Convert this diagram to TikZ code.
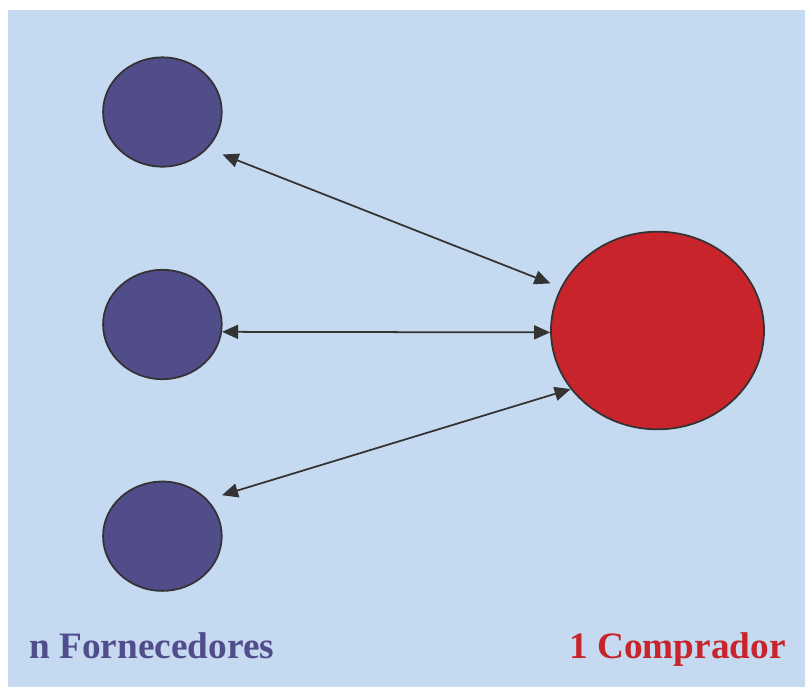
\documentclass[tikz,border=0pt]{standalone}
\usepackage{fontspec}
\setmainfont{Liberation Serif}
\usetikzlibrary{shapes.geometric,arrows.meta}
\definecolor{bgblue}{RGB}{197,218,241}
\definecolor{supplier}{RGB}{81,76,138}
\definecolor{buyer}{RGB}{200,36,43}
\definecolor{edgegray}{RGB}{51,51,51}

\begin{document}
\begin{tikzpicture}[x=0.03cm, y=-0.03cm,
        forn/.style={ellipse, draw=edgegray, line width=1.5pt, fill=supplier,
                minimum width=3.56cm, minimum height=3.28cm, inner sep=0pt},
        comp/.style={ellipse, draw=edgegray, line width=1.5pt, fill=buyer,
                minimum width=6.39cm, minimum height=5.93cm, inner sep=0pt},
        link/.style={draw=edgegray, line width=1.5pt,
                {Triangle[length=0.48cm,width=0.42cm]}-{Triangle[length=0.48cm,width=0.42cm]}},
        caption/.style={inner sep=0pt, font=\fontsize{31.8}{38}\selectfont\bfseries}]
        \useasboundingbox (0,0) rectangle (805,687);
        \fill[bgblue] (8,10) rectangle (805,687);
        \node (f1) [forn] at (162.4, 112.0) {};
        \node (f2) [forn] at (162.4, 324.5) {};
        \node (f3) [forn] at (162.4, 536.2) {};
        \node (c) [comp] at (657.5, 330.5) {};
        \node (lf) [caption, text=supplier, anchor=base west] at (29.3, 658.3) {n Fornecedores};
        \node (lc) [caption, text=buyer, anchor=base east] at (786.0, 658.3) {1 Comprador};
        \draw[link, shorten <=0.48cm, shorten >=0.33cm] (f1.-39) -- (c.156.3);
        \draw[link] (f2.-7.6) -- (c.181);
        \draw[link, shorten <=0.45cm] (f3.39.4) -- (c.214.5);
\end{tikzpicture}
\end{document}
